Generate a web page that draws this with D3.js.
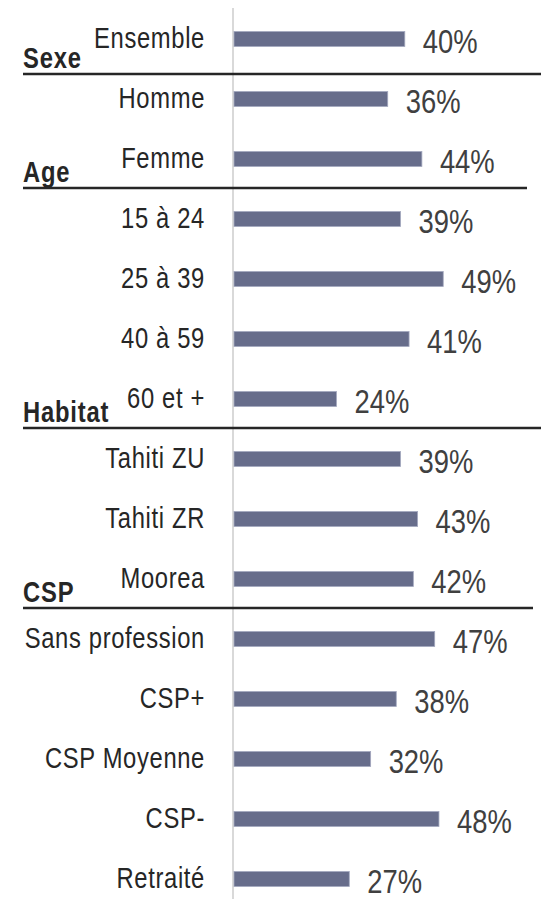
<!DOCTYPE html>
<html>
<head>
<meta charset="utf-8">
<script src="https://cdn.jsdelivr.net/npm/d3@7"></script>
<style>
  html, body { margin: 0; padding: 0; background: #fff; }
  svg { display: block; }
  text { font-family: "Liberation Sans", Arial, sans-serif; }
</style>
</head>
<body>
<div id="chart"></div>
<script>
"use strict"

const categories = [
  "Ensemble", "Homme", "Femme",
  "15 à 24", "25 à 39", "40 à 59", "60 et +",
  "Tahiti ZU", "Tahiti ZR", "Moorea",
  "Sans profession", "CSP+", "CSP Moyenne", "CSP-", "Retraité"
]
const values = [40, 36, 44, 39, 49, 41, 24, 39, 43, 42, 47, 38, 32, 48, 27]

// section title and the category it sits beside (line drawn just below it)
const sectionNames = ["Sexe", "Age", "Habitat", "CSP"]
const sectionAfter = ["Ensemble", "Femme", "60 et +", "Moorea"]

const width = 541
const height = 899
const lineEnds = [541, 527, 541, 533]
const lineShift = [5, -1, -1, -1]

const svg = d3.select("#chart").append("svg")
  .attr("width", width)
  .attr("height", height)

const y = d3.scaleBand()
  .domain(categories)
  .range([9, 909])

const x = d3.scaleLinear()
  .domain([0, 100])
  .range([234, 661])

const barH = 15
const mid = (d) => y(d) + y.bandwidth() / 2

// no narrow font installed: squeeze the regular one horizontally
const at = (px, py, s) => `translate(${px},${py}) scale(${s},1)`

// vertical axis
svg.append("line")
  .attr("x1", x(0) - 1).attr("x2", x(0) - 1)
  .attr("y1", 8).attr("y2", height)
  .attr("stroke", "#d9d9d9")
  .attr("stroke-width", 2)

// bars
svg.append("g")
  .selectAll("rect")
  .data(categories)
  .join("rect")
    .attr("x", x(0))
    .attr("y", (d) => mid(d) - barH / 2)
    .attr("width", (d, i) => x(values[i]) - x(0))
    .attr("height", barH)
    .attr("fill", "#676d8b")
    .attr("stroke", "#a3a8bf")
    .attr("stroke-width", 0.8)

// category labels
svg.append("g")
  .selectAll("text")
  .data(categories)
  .join("text")
    .attr("transform", (d) => at(205, mid(d) + 9, 0.82))
    .attr("text-anchor", "end")
    .attr("font-size", "29px")
    .attr("letter-spacing", "0.8px")
    .attr("fill", "#262626")
    .text((d) => d)

// value labels
svg.append("g")
  .selectAll("text")
  .data(categories)
  .join("text")
    .attr("transform", (d, i) => at(x(values[i]) + 18, mid(d) + 14, 0.83))
    .attr("font-size", "33px")
    .attr("fill", "#404040")
    .text((d, i) => values[i] + "%")

// section separators
const sections = svg.append("g")
  .selectAll("g")
  .data(sectionNames)
  .join("g")

const lineY = (i) => y(sectionAfter[i]) + y.bandwidth() + lineShift[i]

sections.append("line")
  .attr("x1", 23)
  .attr("x2", (d, i) => lineEnds[i])
  .attr("y1", (d, i) => lineY(i))
  .attr("y2", (d, i) => lineY(i))
  .attr("stroke", "#262626")
  .attr("stroke-width", 2.5)

sections.append("text")
  .attr("transform", (d, i) => at(23, lineY(i) - 6, 0.82))
  .attr("font-size", "29px")
  .attr("font-weight", "bold")
  .attr("letter-spacing", "1px")
  .attr("fill", "#262626")
  .text((d) => d)
</script>
</body>
</html>
